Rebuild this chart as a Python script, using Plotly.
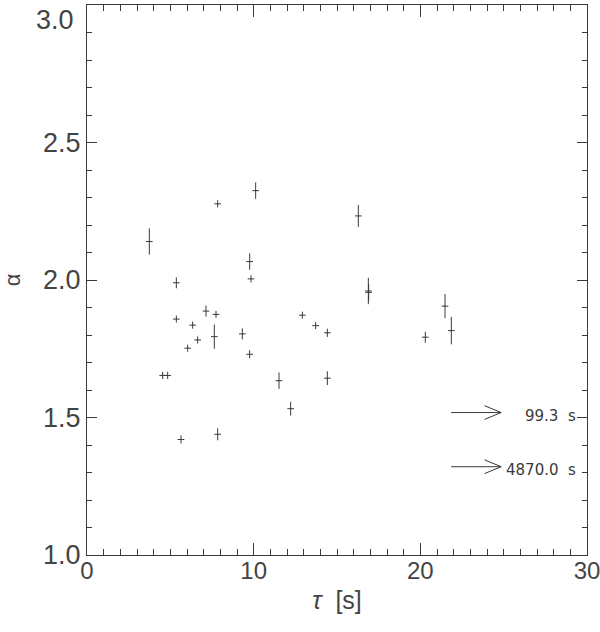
import plotly.graph_objects as go

# measured points: tau [s], alpha and their errors
tau = [3.74, 7.84, 10.12, 9.76, 9.84, 5.36, 7.14, 7.74, 5.36, 6.34, 7.64, 9.32,
       6.64, 6.04, 9.76, 4.54, 4.84, 11.52, 5.64, 7.84, 16.28, 16.88, 16.90,
       12.92, 13.72, 14.42, 14.42, 12.22, 21.48, 21.86, 20.30]
alpha = [2.14, 2.277, 2.325, 2.067, 2.004, 1.99, 1.887, 1.875, 1.858, 1.836,
         1.794, 1.804, 1.782, 1.752, 1.73, 1.653, 1.653, 1.634, 1.42, 1.439,
         2.233, 1.96, 1.955, 1.872, 1.834, 1.808, 1.643, 1.532, 1.905, 1.816, 1.792]
alpha_err = [0.048, 0.013, 0.03, 0.03, 0.013, 0.02, 0.02, 0.013, 0.013, 0.013,
             0.044, 0.02, 0.013, 0.013, 0.015, 0.013, 0.013, 0.03, 0.015, 0.022,
             0.04, 0.048, 0.03, 0.013, 0.013, 0.015, 0.025, 0.025, 0.044, 0.05, 0.02]
tau_err = [0.2] * len(tau)

# points off the right edge of the plot
outlier_alpha = [1.518, 1.321]
outlier_tau = [99.3, 4870.0]

x_ticks = [0, 10, 20, 30]
y_ticks = [1.0, 1.5, 2.0, 2.5, 3.0]

INK = "#3a3a3a"
TXT = "#444"
FONT = "Liberation Sans"

fig = go.Figure()
fig.add_trace(go.Scatter(
    x=tau, y=alpha, mode="markers",
    marker=dict(size=1, color=INK),
    error_x=dict(type="data", array=tau_err, width=0, thickness=1, color=INK),
    error_y=dict(type="data", array=alpha_err, width=0, thickness=1, color=INK),
    showlegend=False, hoverinfo="x+y",
))

# arrows for the outliers: shaft plus open head
arrow_x0, arrow_x1, head_len, head_half = 21.85, 24.85, 1.0, 0.025
for a, t in zip(outlier_alpha, outlier_tau):
    fig.add_trace(go.Scatter(
        x=[arrow_x0, arrow_x1, None, arrow_x1 - head_len, arrow_x1, arrow_x1 - head_len],
        y=[a, a, None, a + head_half, a, a - head_half],
        mode="lines", line=dict(color=INK, width=1),
        showlegend=False, hoverinfo="skip",
    ))
    fig.add_annotation(
        x=29.45, y=a - 0.012, xref="x", yref="y", text=f"{t:.1f}  s",
        showarrow=False, xanchor="right", yanchor="middle",
        font=dict(family="DejaVu Sans", size=15, color=INK),
    )

# top y label sits just below the frame, as in the original
fig.add_annotation(
    x=0, y=y_ticks[-1], xref="paper", yref="y", text=f"{y_ticks[-1]:.1f}",
    showarrow=False, xanchor="right", yanchor="top", xshift=-11, yshift=2,
    font=dict(family=FONT, size=27, color=TXT),
)

axis_common = dict(
    showgrid=False, zeroline=False, showline=True, linecolor=INK, linewidth=1,
    mirror="ticks", ticks="inside", tickcolor=INK, automargin=False,
    ticklabeloverflow="allow",
)
fig.update_xaxes(
    range=[0, 30], tickvals=x_ticks, ticklen=12, ticklabelstandoff=-6,
    tickfont=dict(family=FONT, size=24, color=TXT),
    minor=dict(dtick=1, ticks="inside", ticklen=6, tickcolor=INK),
    title=dict(text="<i>τ</i>  [s]", font=dict(family=FONT, size=25, color=TXT), standoff=8),
    **axis_common,
)
fig.update_yaxes(
    range=[1.0, 3.0], tickvals=y_ticks,
    ticktext=[f"{v:.1f}" for v in y_ticks[:-1]] + [""], ticklen=10,
    tickfont=dict(family=FONT, size=27, color=TXT),
    minor=dict(dtick=0.1, ticks="inside", ticklen=5, tickcolor=INK),
    title=dict(text="α", font=dict(family=FONT, size=22, color=TXT), standoff=22),
    **axis_common,
)
fig.update_layout(
    width=600, height=632,
    margin=dict(l=87, r=13, t=5, b=77),
    plot_bgcolor="white", paper_bgcolor="white",
)
fig.write_html("out.html", post_script="document.body.style.margin='0';",
               config={"displayModeBar": False})
